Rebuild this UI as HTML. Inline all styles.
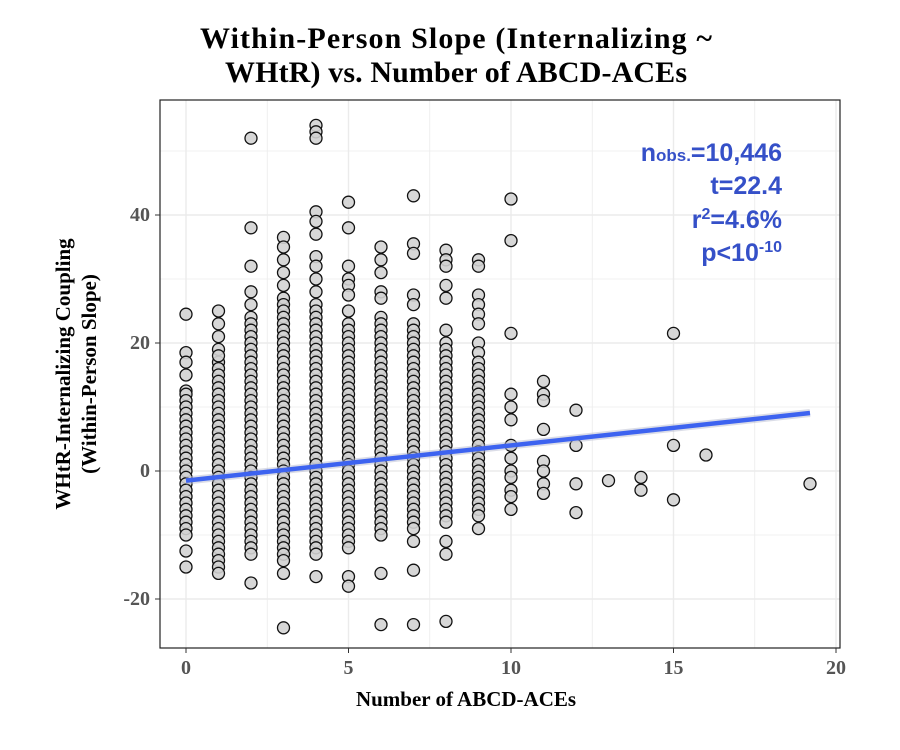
<!DOCTYPE html>
<html><head><meta charset="utf-8"><style>
body{margin:0;background:#fff;}
svg{display:block;}
</style></head><body>
<svg id="chart" width="900" height="750">
<text x="456" y="48" text-anchor="middle" font-family="Liberation Serif, serif" font-weight="bold" font-size="30" fill="#000" textLength="512">Within-Person Slope (Internalizing ~</text>
<text x="456" y="82" text-anchor="middle" font-family="Liberation Serif, serif" font-weight="bold" font-size="30" fill="#000" textLength="462">WHtR) vs. Number of ABCD-ACEs</text>
<g id="grid"></g><g id="points"></g><g id="fit"></g>
<rect x="160" y="100" width="680" height="548" fill="none" stroke="#222" stroke-width="1.2"/>
<g id="ticks"></g>
<text x="466" y="706" text-anchor="middle" font-family="Liberation Serif, serif" font-weight="bold" font-size="21">Number of ABCD-ACEs</text>
<text transform="translate(70,374) rotate(-90)" text-anchor="middle" font-family="Liberation Serif, serif" font-weight="bold" font-size="21">WHtR-Internalizing Coupling</text>
<text transform="translate(96,374) rotate(-90)" text-anchor="middle" font-family="Liberation Serif, serif" font-weight="bold" font-size="21">(Within-Person Slope)</text>
<g font-family="Liberation Sans, sans-serif" font-weight="bold" fill="#3550c8" text-anchor="end">
<text x="782" y="161" font-size="25">n<tspan font-size="17">obs.</tspan>=10,446</text>
<text x="782" y="194" font-size="25">t=22.4</text>
<text x="782" y="228" font-size="25">r<tspan font-size="16" dy="-9">2</tspan><tspan dy="9">=4.6%</tspan></text>
<text x="782" y="261" font-size="25">p&lt;10<tspan font-size="16" dy="-9">-10</tspan></text>
</g>
</svg>
<script>
const xTicks=[0,5,10,15,20];
const yTicks=[-20,0,20,40];
const aceCounts=[0,1,2,3,4,5,6,7,8,9,10,11,12,13,14,15,16,19.2];
const slopeValues=[
[24.5,18.5,17,15,12.5,12,11,10,9,8,7,6,5,4,3,2,1,0,-1,-2,-3,-4,-5,-6,-7,-8,-9,-10,-12.5,-15],
[25,23,21,19,17,18,16,15,14,13,12,11,10,9,8,7,6,5,4,3,2,1,0,-1,-2,-3,-4,-5,-6,-7,-8,-9,-10,-11,-12,-13,-14,-15,-16],
[52,38,32,28,26,24,23,22,21,20,19,18,17,16,15,14,13,12,11,10,9,8,7,6,5,4,3,2,1,0,-1,-2,-3,-4,-5,-6,-7,-8,-9,-10,-11,-12,-13,-17.5],
[36.5,35,33,31,29,27,26,25,24,23,22,21,20,19,18,17,16,15,14,13,12,11,10,9,8,7,6,5,4,3,2,1,0,-1,-2,-3,-4,-5,-6,-7,-8,-9,-10,-11,-12,-13,-14,-16,-24.5],
[54,53,52,40.5,39,37,33.5,32,30,28,26,25,24,23,22,21,20,19,18,17,16,15,14,13,12,11,10,9,8,7,6,5,4,3,2,1,0,-1,-2,-3,-4,-5,-6,-7,-8,-9,-10,-11,-12,-13,-16.5],
[42,38,32,30,29,27.5,25,23,22,21,20,19,18,17,16,15,14,13,12,11,10,9,8,7,6,5,4,3,2,1,0,-1,-2,-3,-4,-5,-6,-7,-8,-9,-10,-11,-12,-16.5,-18],
[35,33,31,28,27,24,23,22,21,20,19,18,17,16,15,14,13,12,11,10,9,8,7,6,5,4,3,2,1,0,-1,-2,-3,-4,-5,-6,-7,-8,-9,-10,-16,-24],
[43,35.5,34,27.5,26,23,22,21,20,19,18,17,16,15,14,13,12,11,10,9,8,7,6,5,4,3,2,1,0,-1,-2,-3,-4,-5,-6,-7,-8,-9,-11,-15.5,-24],
[34.5,33,32,29,27,22,20,19,18,17,16,15,14,13,12,11,10,9,8,7,6,5,4,3,2,1,0,-1,-2,-3,-4,-5,-6,-7,-8,-11,-13,-23.5],
[33,32,27.5,26,24.5,23,20,18.5,17,16,15,14,13,12,11,10,9,8,7,6,5,4,3,2,1,0,-1,-2,-3,-4,-5,-6,-7,-9],
[42.5,36,21.5,12,10,8,4,2,0,-1,-3,-4,-6],
[14,12,11,6.5,1.5,0,-2,-3.5],
[9.5,4,-2,-6.5],
[-1.5],
[-1,-3],
[21.5,4,-4.5],
[2.5],
[-2]
];
const fitIntercept=-1.5;
const fitSlope=0.55;
const fitRange=[0,19.2];

const NS='http://www.w3.org/2000/svg';
const xs=v=>186+v*32.5;
const ys=v=>471-v*6.4;
function mk(tag,attrs,parent){const e=document.createElementNS(NS,tag);for(const k in attrs)e.setAttribute(k,attrs[k]);parent.appendChild(e);return e;}
const grid=document.getElementById('grid');
for(let v=-2.5;v<=22.5;v+=2.5){const x=xs(v);if(x<160||x>840)continue;
 const l=mk('line',{x1:x,x2:x,y1:100,y2:648,stroke:'#ebebeb','stroke-width':v%5===0?1.4:0.8},grid);
 
 }
for(let v=-30;v<=60;v+=10){const y=ys(v);if(y<100||y>648)continue;
 const l=mk('line',{x1:160,x2:840,y1:y,y2:y,stroke:'#ebebeb','stroke-width':v%20===0?1.4:0.8},grid);
 
 }
const ticks=document.getElementById('ticks');
xTicks.forEach(t=>{
 const tl=mk('line',{x1:xs(t),x2:xs(t),y1:648,y2:653,stroke:'#333'},ticks);
 
 
 const tx=mk('text',{x:xs(t),y:674,'text-anchor':'middle','font-family':'Liberation Serif, serif','font-weight':'bold','font-size':20,fill:'#555'},ticks);
 tx.textContent=t;
 
 });
yTicks.forEach(t=>{
 const tl=mk('line',{x1:155,x2:160,y1:ys(t),y2:ys(t),stroke:'#333'},ticks);
 
 
 const tx=mk('text',{x:150,y:ys(t)+6,'text-anchor':'end','font-family':'Liberation Serif, serif','font-weight':'bold','font-size':20,fill:'#555'},ticks);
 tx.textContent=t;
 
 });
const pts=document.getElementById('points');
aceCounts.forEach((c,i)=>{slopeValues[i].forEach(v=>{
 const p=mk('circle',{cx:xs(c),cy:ys(v),r:6,fill:'#d3d3d3',stroke:'#111','stroke-width':1.3,'fill-opacity':0.9},pts);
 
 });});
const fit=document.getElementById('fit');
const band=mk('line',{x1:xs(fitRange[0]),y1:ys(fitIntercept+fitSlope*fitRange[0]),x2:xs(fitRange[1]),y2:ys(fitIntercept+fitSlope*fitRange[1]),stroke:'#b8bcd0','stroke-width':8,'stroke-opacity':0.5},fit);


const fl=mk('line',{x1:xs(fitRange[0]),y1:ys(fitIntercept+fitSlope*fitRange[0]),x2:xs(fitRange[1]),y2:ys(fitIntercept+fitSlope*fitRange[1]),stroke:'#3d63f0','stroke-width':4.5},fit);


</script>
</body></html>
